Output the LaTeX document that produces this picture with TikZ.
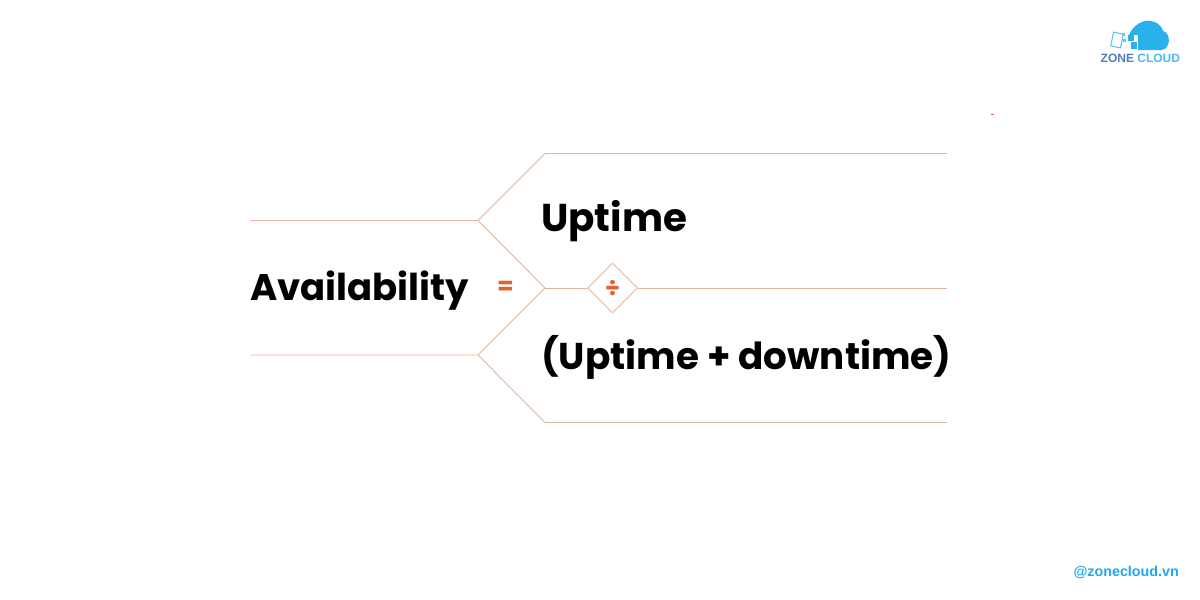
\documentclass[tikz,border=0pt]{standalone}
\usepackage{fontspec}
\setmainfont{Poppins}
\newfontfamily\logofont{Liberation Sans}
\usetikzlibrary{shapes.geometric}
\definecolor{ruleline}{HTML}{E3B59B}
\definecolor{signorange}{HTML}{E4622E}
\definecolor{logoblue}{HTML}{2BB0EE}
\definecolor{logodark}{HTML}{4F7FB8}
\definecolor{handleblue}{HTML}{1FA9EA}
\tikzset{
	ruleline/.style={draw=ruleline, line width=0.9pt},
	bigword/.style={inner sep=0pt, text=black, font=\fontsize{37}{37}\selectfont\bfseries},
	signword/.style={inner sep=0pt, text=signorange, font=\fontsize{24}{24}\selectfont\bfseries}
}
\begin{document}
\begin{tikzpicture}[x=1pt, y=-1pt]
			%%%%% START %%%%%
			\useasboundingbox (0, 0) rectangle (1200, 600);
			
			\coordinate (midjoin) at (545, 288);
			\node[diamond, ruleline, minimum width=50pt, minimum height=50pt, inner sep=0pt] (divbox) at (612.5, 288) {};
			\node[signword] (divsign) at (612.5, 288) {÷};
			\node[signword] (eqsign) at (505.5, 288) {=};
			
			\node[bigword, anchor=base west] (avail) at (250, 300) {Availability};
			\node[bigword, anchor=base west, font=\fontsize{38.8}{38.8}\selectfont\bfseries] (upword) at (541, 231) {Uptime};
			\node[bigword, anchor=base west, font=\fontsize{37.3}{37.3}\selectfont\bfseries] (sumword) at (541, 369) {(Uptime + downtime)};
			
			\draw[ruleline] (250, 220.5) -- (478, 220.5) -- (545, 153.5) -- (947, 153.5);
			\draw[ruleline] (478, 220.5) -- (midjoin);
			\draw[ruleline] (250, 355) -- (478, 355) -- (545, 422.5) -- (947, 422.5);
			\draw[ruleline] (478, 355) -- (midjoin);
			\draw[ruleline] (midjoin) -- (divbox.west);
			\draw[ruleline] (divbox.east) -- (947, 288);
			
			\fill[signorange] (991, 113.5) rectangle (994, 115);
			
			% logo
			\fill[logoblue] (1134, 50) .. controls (1128, 48) and (1127, 37) .. (1130, 33)
				.. controls (1133, 26) and (1143, 19) .. (1151, 21)
				.. controls (1158, 22) and (1162, 27) .. (1163, 31)
				.. controls (1171, 33) and (1171, 48) .. (1162, 50) -- cycle;
			\draw[logoblue!80, line width=1pt, rotate around={-12:(1117, 40)}] (1112, 33) rectangle (1122, 47);
			\fill[white] (1125, 35) rectangle (1138, 50);
			\fill[logoblue] (1128, 35) rectangle (1134, 41);
			\fill[logoblue] (1131, 42) rectangle (1137, 49);
			\fill[logoblue!70] (1122, 33) rectangle (1125, 36);
			\fill[logoblue!70] (1123, 39) rectangle (1126, 42);
			\node[inner sep=0pt, anchor=base west] (logotext) at (1100.5, 62.5) {\logofont\bfseries\fontsize{12}{12}\selectfont\textcolor{logodark}{ZONE} \textcolor{logoblue!85}{CLOUD}};
			
			\node[inner sep=0pt, anchor=base east, text=handleblue] (handle) at (1179, 576) {\logofont\fontsize{14.3}{14.3}\selectfont\bfseries @zonecloud.vn};
			%%%%% END %%%%%
		\end{tikzpicture}
\end{document}
